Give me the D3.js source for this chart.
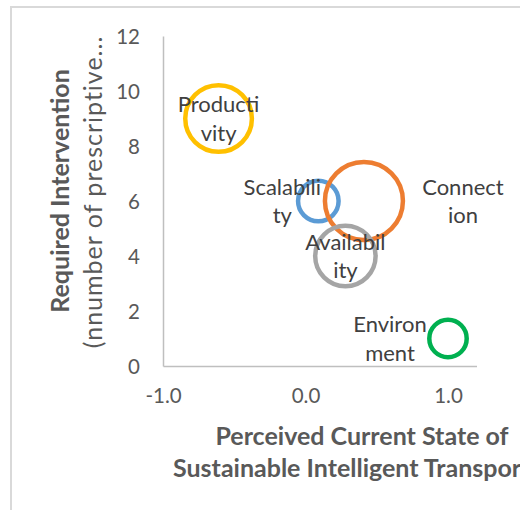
<!DOCTYPE html>
<html>
<head>
<meta charset="utf-8">
<script src="https://cdn.jsdelivr.net/npm/d3@7"></script>
<style>
  html, body { margin: 0; padding: 0; background: #fff; }
  svg { display: block; font-family: Lato, "Open Sans", sans-serif; }
</style>
</head>
<body>
<svg id="chart" width="520" height="510"></svg>
<script>
// Bubble chart: perceived current state vs. required intervention per dimension
const categories = ["Productivity", "Scalability", "Connection", "Availability", "Environment"];
const perceivedState = [-0.61, 0.09, 0.41, 0.28, 1.0];
const requiredIntervention = [9, 6, 6, 4, 1];
const bubbleSize = [7.3, 2.7, 10, 6, 2.3];
const labelLines = [["Producti", "vity"], ["Scalabili", "ty"], ["Connect", "ion"], ["Availabil", "ity"], ["Environ", "ment"]];
const xTicks = [-1, 0, 1];
const yTicks = [0, 2, 4, 6, 8, 10, 12];
const xTitleLines = ["Perceived Current State of", "Sustainable Intelligent Transport"];
const yTitleLines = ["Required Intervention", "(nnumber of prescriptive..."];

// series colours and label offsets (layout)
const colors = ["#FFC000", "#5B9BD5", "#ED7D31", "#A5A5A5", "#00B050"];
const labelDx = { Productivity: 0, Scalability: -36, Connection: 99, Availability: 0, Environment: -58 };

const svg = d3.select("#chart");

// chart frame
svg.append("rect")
  .attr("x", 11).attr("y", 7)
  .attr("width", 560).attr("height", 560)
  .attr("fill", "none").attr("stroke", "#d9d9d9").attr("stroke-width", 2);

const plot = { left: 163, right: 476.5, top: 36, bottom: 366 };

const x = d3.scaleLinear().domain([-1, 1.2]).range([plot.left, plot.right]);
const y = d3.scaleLinear().domain([0, 12]).range([plot.bottom, plot.top]);
const r = d3.scaleSqrt().domain([0, 10]).range([0, 39]);

// axes (hyphen-minus for negative ticks)
const fmt1 = d3.format(".1f");
const xAxis = d3.axisBottom(x).tickValues(xTicks).tickSize(0).tickPadding(0)
  .tickFormat(d => fmt1(d).replace("\u2212", "-"));
const yAxis = d3.axisLeft(y).tickValues(yTicks).tickSize(0).tickPadding(0)
  .tickFormat(d3.format("d"));

const gx = svg.append("g").attr("transform", `translate(0,${plot.bottom})`).call(xAxis);
gx.select(".domain").attr("stroke", "#bfbfbf").attr("stroke-width", 1.5);
gx.selectAll(".tick text")
  .attr("y", 37).attr("dy", null)
  .attr("fill", "#595959").style("font-size", "20.5px").style("font-family", "Lato");

const gy = svg.append("g").attr("transform", `translate(${plot.left},0)`).call(yAxis);
gy.select(".domain").attr("stroke", "#bfbfbf").attr("stroke-width", 1.5);
gy.selectAll(".tick text")
  .attr("x", -23).attr("dy", "0.36em")
  .attr("fill", "#595959").style("font-size", "20.5px").style("font-family", "Lato");

// bubbles
const data = categories.map((c, i) => ({
  name: c, px: perceivedState[i], py: requiredIntervention[i],
  size: bubbleSize[i], lines: labelLines[i], color: colors[i]
}));

svg.append("g").selectAll("circle").data(data).join("circle")
  .attr("cx", d => x(d.px))
  .attr("cy", d => y(d.py))
  .attr("r", d => r(d.size))
  .attr("fill", "none")
  .attr("stroke", d => d.color)
  .attr("stroke-width", 4.5);

// data labels (two wrapped lines, vertically centred on the bubble)
const lineGap = 28.5, capH = 15.5;
const labels = svg.append("g").selectAll("text").data(data).join("text")
  .attr("text-anchor", "middle")
  .attr("fill", "#404040")
  .style("font-size", "22px");
labels.each(function(d) {
  const t = d3.select(this);
  const cx = x(d.px) + labelDx[d.name];
  const base = y(d.py) - lineGap / 2 + capH / 2;
  d.lines.forEach((ln, k) => {
    t.append("tspan").attr("x", cx).attr("y", base + k * lineGap).text(ln);
  });
});

// axis titles
svg.append("text")
  .attr("fill", "#595959").style("font-size", "25px").style("font-weight", "bold")
  .attr("x", 362).attr("y", 445).attr("text-anchor", "middle")
  .text(xTitleLines[0]);
svg.append("text")
  .attr("fill", "#595959").style("font-size", "25px").style("font-weight", "bold")
  .attr("x", 173).attr("y", 477).text(xTitleLines[1]);

svg.append("text")
  .attr("transform", "translate(69,191) rotate(-90)")
  .attr("text-anchor", "middle")
  .attr("fill", "#595959").style("font-size", "25px").style("font-weight", "bold")
  .text(yTitleLines[0]);
svg.append("text")
  .attr("transform", "translate(102,192) rotate(-90)")
  .attr("text-anchor", "middle")
  .attr("fill", "#595959").style("font-size", "25px").style("letter-spacing", "1px")
  .text(yTitleLines[1]);
</script>
</body>
</html>
